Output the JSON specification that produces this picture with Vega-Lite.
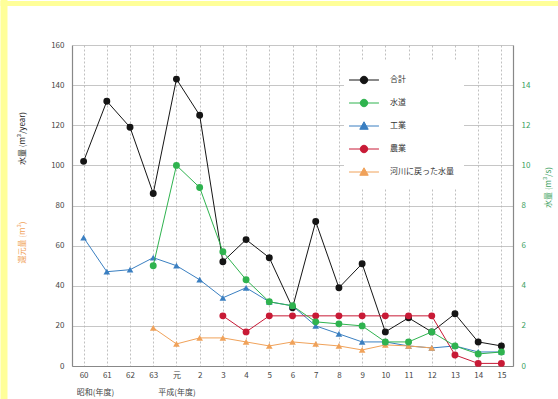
{
  "$schema": "https://vega.github.io/schema/vega-lite/v6.json",
  "width": 441,
  "height": 321,
  "autosize": {"type": "none"},
  "padding": {"left": 72, "top": 45, "right": 45, "bottom": 33},
  "background": "white",
  "config": {
    "font": "Noto Sans CJK JP",
    "view": {"stroke": null}
  },
  "data": {
    "values": [
      {"year": "60", "series": "合計", "value": 102},
      {"year": "61", "series": "合計", "value": 132},
      {"year": "62", "series": "合計", "value": 119},
      {"year": "63", "series": "合計", "value": 86},
      {"year": "元", "series": "合計", "value": 143},
      {"year": "2", "series": "合計", "value": 125},
      {"year": "3", "series": "合計", "value": 52},
      {"year": "4", "series": "合計", "value": 63},
      {"year": "5", "series": "合計", "value": 54},
      {"year": "6", "series": "合計", "value": 29},
      {"year": "7", "series": "合計", "value": 72},
      {"year": "8", "series": "合計", "value": 39},
      {"year": "9", "series": "合計", "value": 51},
      {"year": "10", "series": "合計", "value": 17},
      {"year": "11", "series": "合計", "value": 24},
      {"year": "12", "series": "合計", "value": 17},
      {"year": "13", "series": "合計", "value": 26},
      {"year": "14", "series": "合計", "value": 12},
      {"year": "15", "series": "合計", "value": 10},
      {"year": "63", "series": "水道", "value": 5.0},
      {"year": "元", "series": "水道", "value": 10.0},
      {"year": "2", "series": "水道", "value": 8.9},
      {"year": "3", "series": "水道", "value": 5.7},
      {"year": "4", "series": "水道", "value": 4.3},
      {"year": "5", "series": "水道", "value": 3.2},
      {"year": "6", "series": "水道", "value": 3.0},
      {"year": "7", "series": "水道", "value": 2.2},
      {"year": "8", "series": "水道", "value": 2.1},
      {"year": "9", "series": "水道", "value": 2.0},
      {"year": "10", "series": "水道", "value": 1.2},
      {"year": "11", "series": "水道", "value": 1.2},
      {"year": "12", "series": "水道", "value": 1.7},
      {"year": "13", "series": "水道", "value": 1.0},
      {"year": "14", "series": "水道", "value": 0.6},
      {"year": "15", "series": "水道", "value": 0.7},
      {"year": "60", "series": "工業", "value": 64},
      {"year": "61", "series": "工業", "value": 47},
      {"year": "62", "series": "工業", "value": 48},
      {"year": "63", "series": "工業", "value": 54},
      {"year": "元", "series": "工業", "value": 50},
      {"year": "2", "series": "工業", "value": 43},
      {"year": "3", "series": "工業", "value": 34},
      {"year": "4", "series": "工業", "value": 39},
      {"year": "5", "series": "工業", "value": 32},
      {"year": "6", "series": "工業", "value": 30},
      {"year": "7", "series": "工業", "value": 20},
      {"year": "8", "series": "工業", "value": 16},
      {"year": "9", "series": "工業", "value": 12},
      {"year": "10", "series": "工業", "value": 12},
      {"year": "11", "series": "工業", "value": 10},
      {"year": "12", "series": "工業", "value": 9},
      {"year": "13", "series": "工業", "value": 10},
      {"year": "14", "series": "工業", "value": 7},
      {"year": "15", "series": "工業", "value": 7},
      {"year": "3", "series": "農業", "value": 25},
      {"year": "4", "series": "農業", "value": 17},
      {"year": "5", "series": "農業", "value": 25},
      {"year": "6", "series": "農業", "value": 25},
      {"year": "7", "series": "農業", "value": 25},
      {"year": "8", "series": "農業", "value": 25},
      {"year": "9", "series": "農業", "value": 25},
      {"year": "10", "series": "農業", "value": 25},
      {"year": "11", "series": "農業", "value": 25},
      {"year": "12", "series": "農業", "value": 25},
      {"year": "13", "series": "農業", "value": 5.5},
      {"year": "14", "series": "農業", "value": 1.3},
      {"year": "15", "series": "農業", "value": 1.3},
      {"year": "63", "series": "河川に戻った水量", "value": 19},
      {"year": "元", "series": "河川に戻った水量", "value": 11},
      {"year": "2", "series": "河川に戻った水量", "value": 14},
      {"year": "3", "series": "河川に戻った水量", "value": 14},
      {"year": "4", "series": "河川に戻った水量", "value": 12},
      {"year": "5", "series": "河川に戻った水量", "value": 10},
      {"year": "6", "series": "河川に戻った水量", "value": 12},
      {"year": "7", "series": "河川に戻った水量", "value": 11},
      {"year": "8", "series": "河川に戻った水量", "value": 10},
      {"year": "9", "series": "河川に戻った水量", "value": 8},
      {"year": "10", "series": "河川に戻った水量", "value": 10.5},
      {"year": "11", "series": "河川に戻った水量", "value": 10},
      {"year": "12", "series": "河川に戻った水量", "value": 9}
    ]
  },
  "encoding": {
    "x": {
      "field": "year",
      "type": "ordinal",
      "sort": ["60", "61", "62", "63", "元", "2", "3", "4", "5", "6", "7", "8", "9", "10", "11", "12", "13", "14", "15"],
      "scale": {"type": "point", "padding": 0.5},
      "axis": {
        "title": "昭和(年度)",
        "titleFontSize": 8,
        "titleFontWeight": "normal",
        "titleColor": "#444444",
        "titleX": 23,
        "titleY": 26,
        "titleAlign": "center",
        "titleBaseline": "middle",
        "labelAngle": 0,
        "labelFontSize": 8,
        "labelColor": "#444444",
        "labelPadding": 5,
        "labelOverlap": false,
        "labelLineHeight": 17,
        "labelExpr": "datum.value == '元' ? ['元', '平成(年度)'] : datum.label",
        "grid": true,
        "gridColor": "#b0b0b0",
        "gridDash": [2, 2],
        "gridWidth": 0.8,
        "ticks": false,
        "domainColor": "#888888",
        "domainWidth": 1.2
      }
    }
  },
  "layer": [
    {
      "transform": [{"filter": "datum.series === '河川に戻った水量'"}],
      "mark": {"type": "point", "opacity": 0},
      "encoding": {
        "y": {
          "field": "value", "type": "quantitative",
          "scale": {"domain": [0, 160], "nice": false},
          "axis": {"orient": "right", "offset": -513, "values": [160], "tickOffset": -42.5, "tickSize": 558, "tickWidth": 5, "tickColor": "#ffff99", "labels": false, "domain": false, "grid": false, "title": null}
        }
      }
    },
    {
      "transform": [{"filter": "datum.series === '河川に戻った水量'"}],
      "mark": {"type": "point", "opacity": 0},
      "encoding": {
        "y": {
          "field": "value", "type": "quantitative",
          "scale": {"domain": [0, 160], "nice": false},
          "axis": {"orient": "left", "offset": 65, "values": [83], "tickSize": 7, "tickWidth": 399, "tickColor": "#ffff99", "labels": false, "domain": false, "grid": false,
            "title": "還元量 (m³)", "titleColor": "#f0a25a", "titleFontSize": 8, "titleFontWeight": "normal", "titleX": 15, "titleY": 197, "titleAngle": -90, "titleAlign": "center", "titleBaseline": "middle"}
        }
      }
    },
    {
      "transform": [{"filter": "datum.series !== '水道'"}],
      "encoding": {
        "y": {
          "field": "value", "type": "quantitative",
          "scale": {"domain": [0, 160], "nice": false},
          "axis": {"orient": "left", "values": [0, 20, 40, 60, 80, 100, 120, 140, 160], "grid": true, "gridColor": "#b8b8b8", "gridWidth": 0.8, "ticks": false, "domainColor": "#888888", "domainWidth": 1.2,
            "labelFontSize": 8, "labelColor": "#444444", "labelPadding": 8,
            "title": "水量 (m³/year)", "titleColor": "#222222", "titleFontSize": 8, "titleFontWeight": "normal", "titleX": -50, "titleY": 93, "titleAngle": -90, "titleAlign": "center", "titleBaseline": "middle"}
        },
        "color": {
          "field": "series", "type": "nominal",
          "scale": {"domain": ["合計", "水道", "工業", "農業", "河川に戻った水量"], "range": ["#151515", "#2fb34f", "#3a7fc1", "#c81a36", "#f0a25a"]},
          "legend": {
            "orient": "none", "legendX": 272, "legendY": 15, "title": null, "fillColor": "white", "padding": 10,
            "symbolSize": 350, "rowPadding": 7, "labelOffset": 16, "labelFontSize": 8, "labelColor": "#333333",
            "encode": {"symbols": {"update": {
              "shape": {"signal": "datum.value === '工業' || datum.value === '河川に戻った水量' ? 'M-1.6,0L1.6,0M0,-0.45L0.45,0.35L-0.45,0.35Z' : 'M-1.6,0L1.6,0M-0.4,0A0.4,0.4,0,1,1,0.4,0A0.4,0.4,0,1,1,-0.4,0Z'"},
              "fill": {"scale": "color", "field": "value"},
              "stroke": {"scale": "color", "field": "value"},
              "strokeWidth": {"value": 1},
              "size": {"value": 350},
              "opacity": {"value": 1},
              "fillOpacity": {"value": 1},
              "strokeOpacity": {"value": 1}
            }}}
          }
        }
      },
      "layer": [
        {"mark": {"type": "line", "strokeWidth": 1}},
        {
          "transform": [{"filter": "datum.series === '合計' || datum.series === '農業'"}],
          "mark": {"type": "point", "shape": "circle", "filled": true, "size": 48, "opacity": 1}
        },
        {
          "transform": [{"filter": "datum.series === '工業' || datum.series === '河川に戻った水量'"}],
          "mark": {"type": "point", "shape": "triangle-up", "filled": true, "size": 44, "opacity": 1}
        }
      ]
    },
    {
      "transform": [{"filter": "datum.series === '水道'"}],
      "encoding": {
        "y": {
          "field": "value", "type": "quantitative",
          "scale": {"domain": [0, 16], "nice": false},
          "axis": {"orient": "right", "values": [0, 2, 4, 6, 8, 10, 12, 14], "grid": false, "ticks": false, "domainColor": "#888888", "domainWidth": 1.2,
            "labelFontSize": 8, "labelColor": "#3aa060", "labelPadding": 8,
            "title": "水量 (m³/s)", "titleColor": "#3aa060", "titleFontSize": 8, "titleFontWeight": "normal", "titleX": 35, "titleY": 142, "titleAngle": -90, "titleAlign": "center", "titleBaseline": "middle"}
        },
        "color": {
          "field": "series", "type": "nominal",
          "scale": {"domain": ["合計", "水道", "工業", "農業", "河川に戻った水量"], "range": ["#151515", "#2fb34f", "#3a7fc1", "#c81a36", "#f0a25a"]},
          "legend": {
            "orient": "none", "legendX": 272, "legendY": 15, "title": null, "fillColor": "white", "padding": 10,
            "symbolSize": 350, "rowPadding": 7, "labelOffset": 16, "labelFontSize": 8, "labelColor": "#333333",
            "encode": {"symbols": {"update": {
              "shape": {"signal": "datum.value === '工業' || datum.value === '河川に戻った水量' ? 'M-1.6,0L1.6,0M0,-0.45L0.45,0.35L-0.45,0.35Z' : 'M-1.6,0L1.6,0M-0.4,0A0.4,0.4,0,1,1,0.4,0A0.4,0.4,0,1,1,-0.4,0Z'"},
              "fill": {"scale": "color", "field": "value"},
              "stroke": {"scale": "color", "field": "value"},
              "strokeWidth": {"value": 1},
              "size": {"value": 350},
              "opacity": {"value": 1},
              "fillOpacity": {"value": 1},
              "strokeOpacity": {"value": 1}
            }}}
          }
        }
      },
      "layer": [
        {"mark": {"type": "line", "strokeWidth": 1}},
        {"mark": {"type": "point", "shape": "circle", "filled": true, "size": 48, "opacity": 1}}
      ]
    }
  ],
  "resolve": {"scale": {"y": "independent"}}
}
